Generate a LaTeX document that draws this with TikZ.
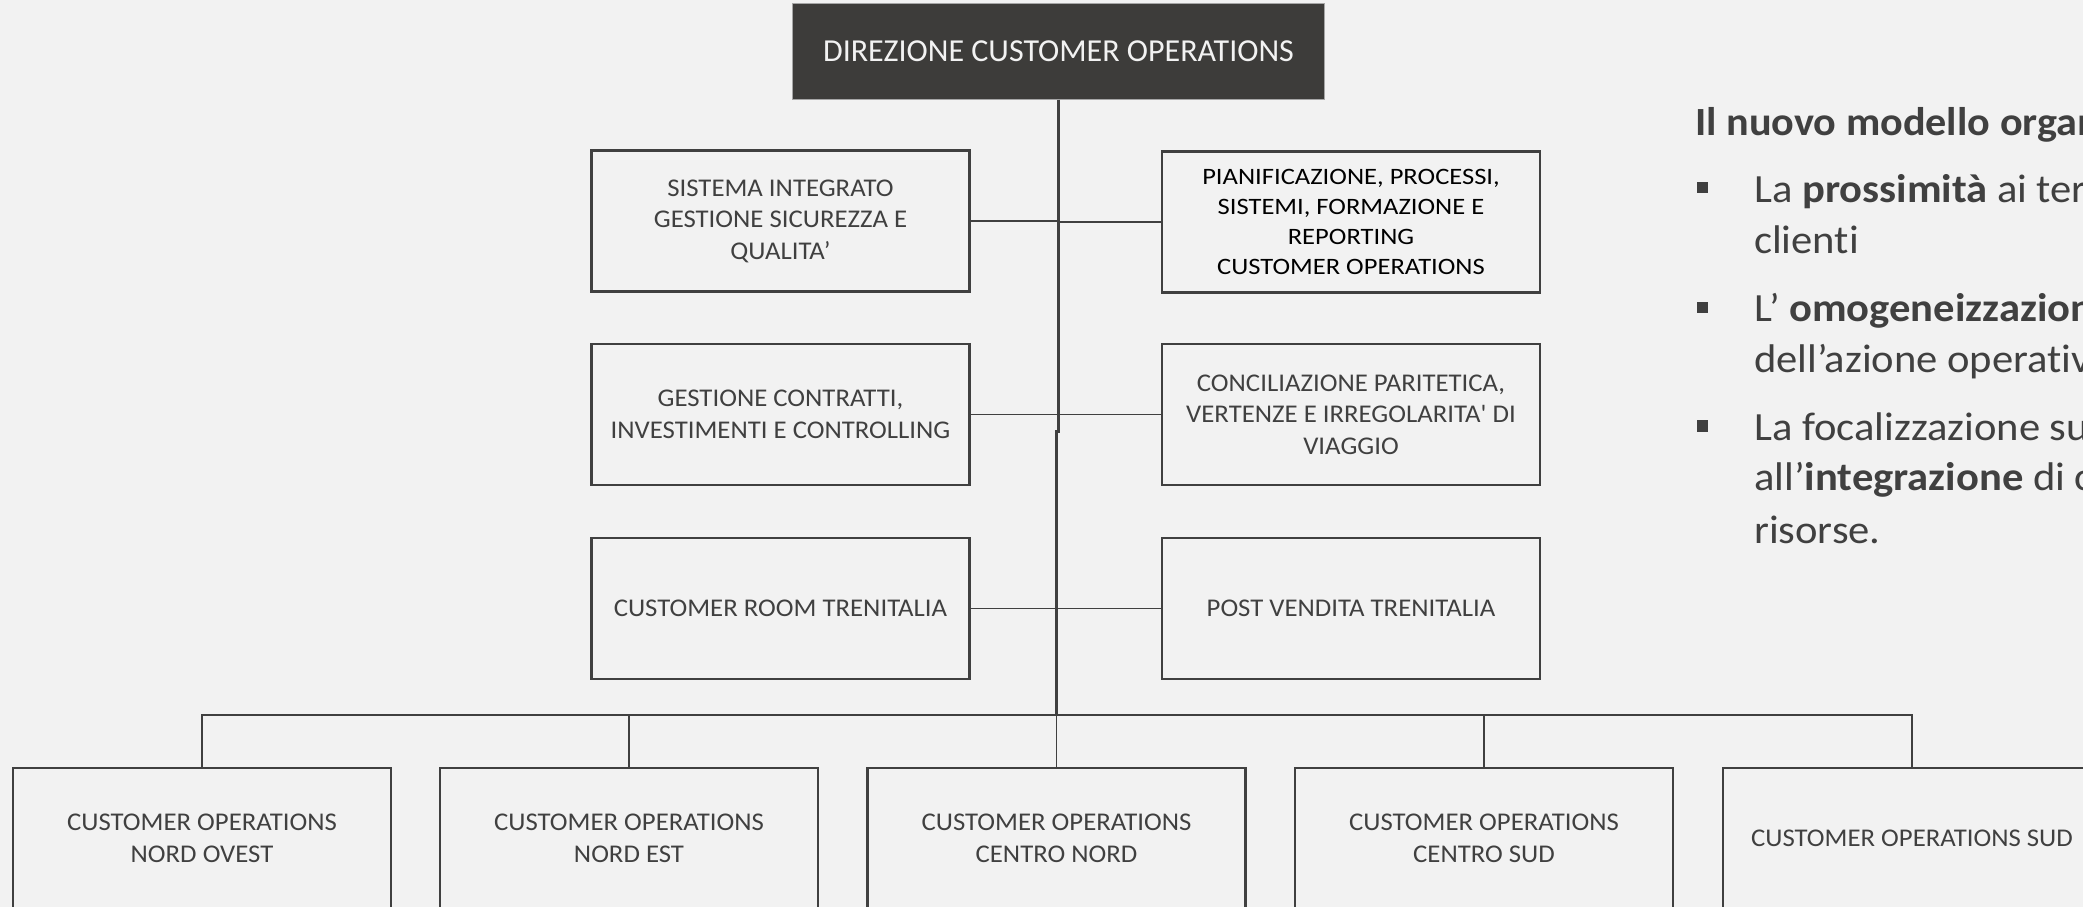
\documentclass[tikz,border=0pt]{standalone}
\usepackage{fontspec}
\setmainfont{Carlito}[Ligatures=NoCommon]
\newfontfamily\boxfont{Carlito}[Ligatures=NoCommon, FakeStretch=1.05]
\newfontfamily\planfont{Carlito}[Ligatures=NoCommon, FakeStretch=1.13]
\newfontfamily\sidefont{Carlito}[Ligatures=NoCommon, FakeStretch=1.065]
\newfontfamily\headfont{Carlito}[Ligatures=NoCommon, FakeStretch=1.055]
\definecolor{bg}{HTML}{F2F2F2}
\definecolor{ink}{HTML}{404040}
\definecolor{topfill}{HTML}{3D3C3A}
\begin{document}
\begin{tikzpicture}[x=1pt,y=-1pt,
  orgbox/.style={draw=ink, line width=2.5pt, fill=bg, minimum width=378pt, minimum height=141pt,
    align=center, inner sep=0pt, text=ink, font=\boxfont\fontsize{25.5}{31.5}\selectfont},
  conn/.style={draw=ink, line width=1.3pt},
  trunk/.style={draw=ink, line width=2.2pt},
  txt/.style={anchor=base west, inner sep=0pt, text=ink, font=\sidefont\fontsize{40}{50}\selectfont},
  sqbullet/.style={fill=ink, minimum size=11.6pt, inner sep=0pt}]
\useasboundingbox (0,0) rectangle (2083,907);
\fill[bg] (0,0) rectangle (2083,907);
\begin{scope}
\clip (0,0) rectangle (2083,907);
% top
\node[fill=topfill, draw=gray!70, line width=1pt, minimum width=532pt, minimum height=95pt, inner sep=0pt,
  text=bg, font=\fontsize{32}{38}\selectfont] (top) at (1058.5,51.5) {DIREZIONE CUSTOMER OPERATIONS};
% staff boxes
\node[orgbox] (l1) at (780.5,221) {SISTEMA INTEGRATO\\GESTIONE SICUREZZA E\\QUALITA’};
\node[orgbox, text=black, font=\planfont\fontsize{23.5}{30}\selectfont] (r1) at (1351,222) {PIANIFICAZIONE, PROCESSI,\\SISTEMI, FORMAZIONE E\\REPORTING\\CUSTOMER OPERATIONS};
\node[orgbox] (l2) at (780.5,414.5) {GESTIONE CONTRATTI,\\INVESTIMENTI E CONTROLLING};
\node[orgbox] (r2) at (1351,414.5) {CONCILIAZIONE PARITETICA,\\VERTENZE E IRREGOLARITA' DI\\VIAGGIO};
\node[orgbox] (l3) at (780.5,608.5) {CUSTOMER ROOM TRENITALIA};
\node[orgbox] (r3) at (1351,608.5) {POST VENDITA TRENITALIA};
% bottom boxes
\node[orgbox] (b1) at (202,838.5) {CUSTOMER OPERATIONS\\NORD OVEST};
\node[orgbox] (b2) at (629,838.5) {CUSTOMER OPERATIONS\\NORD EST};
\node[orgbox] (b3) at (1056.5,838.5) {CUSTOMER OPERATIONS\\CENTRO NORD};
\node[orgbox] (b4) at (1484,838.5) {CUSTOMER OPERATIONS\\CENTRO SUD};
\node[orgbox] (b5) at (1912,838.5) {CUSTOMER OPERATIONS SUD};
% trunk
\coordinate (tj) at (1058.5,433);
\coordinate (tj2) at (1056.5,430);
\coordinate (busc) at (1056.5,715);
\draw[trunk] (top.south) -- (tj);
\draw[trunk] (tj2) -- (busc);
% staff connectors
\draw[conn] (l1.east) -- (l1.east -| top.south);
\draw[conn] (top.south |- r1.west) -- (r1.west);
\draw[conn] (l2.east) -- (l2.east -| top.south);
\draw[conn] (top.south |- r2.west) -- (r2.west);
\draw[conn] (l3.east) -- (l3.east -| top.south);
\draw[conn] (top.south |- r3.west) -- (r3.west);
% bus
\draw[conn] (b1.north) |- (b5.north |- busc) -- (b5.north);
\draw[conn] (b2.north) -- (b2.north |- busc);
\draw[conn] (b3.north) -- (b3.north |- busc);
\draw[conn] (b4.north) -- (b4.north |- busc);
% right text
\node[txt, font=\headfont\bfseries\fontsize{40}{48}\selectfont] (title) at (1695,135) {Il nuovo modello organizzativo};
\node[sqbullet] (q1) at (1702.5,187.5) {};
\node[txt] (t1a) at (1754,202) {La \textbf{prossimità} ai territori};
\node[txt] (t1b) at (1754,253) {clienti};
\node[sqbullet] (q2) at (1702.5,307.5) {};
\node[txt] (t2a) at (1754,321) {L’ \textbf{omogeneizzazione}};
\node[txt] (t2b) at (1754,372) {dell’azione operativa};
\node[sqbullet] (q3) at (1702.5,426) {};
\node[txt] (t3a) at (1754,440) {La focalizzazione sulla};
\node[txt] (t3b) at (1754,490) {all’\textbf{integrazione} di competenze};
\node[txt] (t3c) at (1754,543) {risorse.};
\end{scope}
\end{tikzpicture}
\end{document}
